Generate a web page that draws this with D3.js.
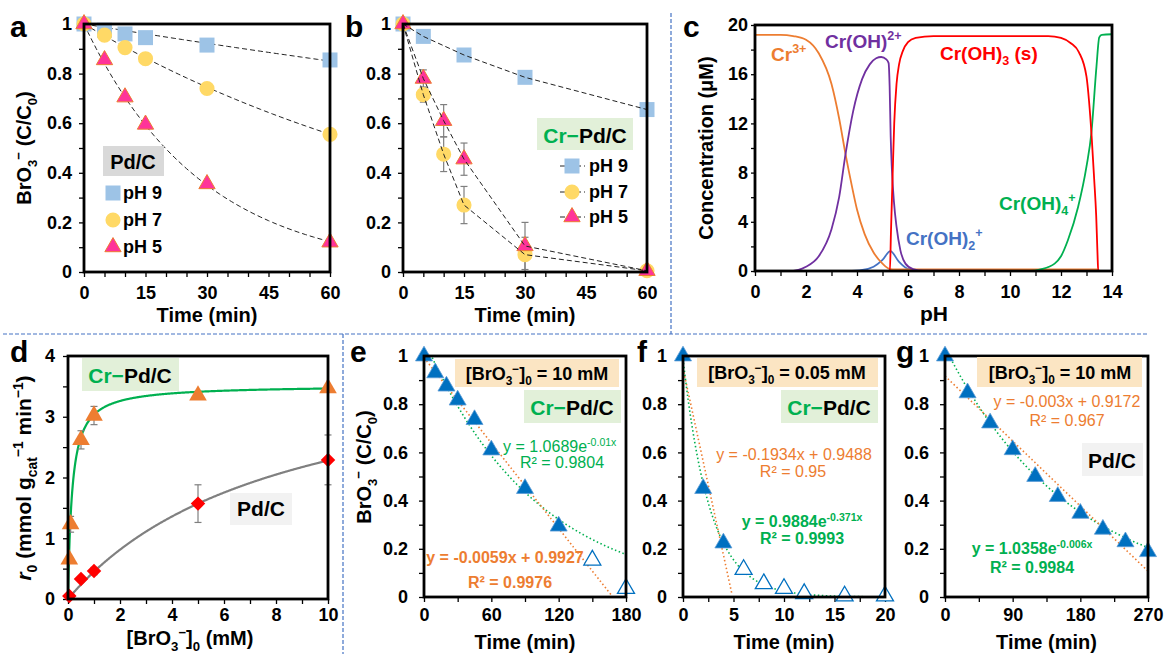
<!DOCTYPE html>
<html>
<head>
<meta charset="utf-8">
<script src="https://d3js.org/d3.v7.min.js"></script>
<style>
  body { margin: 0; background: #fff; }
  svg { display: block; }
</style>
</head>
<body>
<svg id="fig" width="1164" height="654"></svg>
<script>
// ---------- data ----------
// a: Pd/C, BrO3- decay at three pH
const timeA = [0, 5, 10, 15, 30, 60];
const aPH9 = [1, 0.975, 0.96, 0.945, 0.915, 0.855];
const aPH7 = [1, 0.955, 0.905, 0.86, 0.74, 0.555];
const aPH5 = [1, 0.855, 0.705, 0.595, 0.355, 0.12];
const aRate = { pH9: 0.0027, pH7: 0.0098, pH5: 0.035 }; // first-order fit constants

// b: Cr-Pd/C
const timeB9 = [0, 5, 15, 30, 60];
const bPH9 = [1, 0.95, 0.875, 0.785, 0.655];
const timeB = [0, 5, 10, 15, 30, 60];
const bPH7 = [1, 0.715, 0.475, 0.27, 0.07, 0.005];
const bErr7 = [0, 0.03, 0.07, 0.075, 0.07, 0];
const bPH5 = [1, 0.78, 0.61, 0.455, 0.105, 0.005];
const bErr5 = [0, 0.035, 0.065, 0.065, 0.095, 0];

// c: Cr speciation vs pH
const phCr3 = [0, 1, 1.5, 2, 2.5, 3, 3.3, 3.55, 3.8, 4.0, 4.3, 4.65, 5.0, 5.3, 5.5, 13.4, 13.55, 14];
const cCr3 = [19.2, 19.2, 19.1, 18.8, 17.7, 15.2, 12.4, 9.5, 6.9, 5.0, 3.0, 1.5, 0.6, 0.15, 0.12, 0.12, 0, 0];
const phCrOH = [0, 1.3, 1.7, 2, 2.5, 3, 3.3, 3.55, 3.85, 4.2, 4.5, 4.75, 4.95, 5.15, 5.24, 5.28, 5.32, 5.37, 5.45, 5.55, 5.7, 5.9, 6.2, 6.6, 14];
const cCrOH = [0, 0, 0.1, 0.35, 1.2, 3.4, 6.0, 9.5, 13.0, 15.6, 16.8, 17.3, 17.4, 17.2, 16.9, 15.0, 11.0, 8.2, 5.6, 3.6, 1.7, 0.6, 0.15, 0.02, 0];
const phCrOH2 = [0, 3.5, 4.1, 4.65, 5.0, 5.31, 5.64, 5.97, 6.4, 14];
const cCrOH2 = [0, 0, 0.05, 0.35, 0.9, 1.62, 0.76, 0.2, 0.03, 0];
const phCrOH3 = [0, 5.29, 5.33, 5.4, 5.46, 5.55, 5.65, 5.8, 6.0, 6.3, 7, 11.5, 12.0, 12.4, 12.7, 13.0, 13.1, 13.2, 13.3, 13.38, 13.43, 13.46, 14];
const cCrOH3 = [0, 0, 3, 8, 12, 15.2, 16.8, 17.9, 18.6, 18.95, 19.1, 19.1, 18.95, 18.5, 17.8, 15.8, 13.8, 11.0, 7.5, 4.5, 1.5, 0, 0];
const phCrOH4 = [0, 10.8, 11.2, 11.75, 12.0, 12.27, 12.67, 13.0, 13.19, 13.39, 13.5, 13.6, 14];
const cCrOH4 = [0, 0, 0.13, 0.6, 1.2, 2.5, 5.2, 8.5, 11.2, 16.6, 19.0, 19.2, 19.25];

// d: initial rate vs [BrO3-]0
const dConcCr = [0.05, 0.1, 0.5, 1, 5, 10];
const dRateCr = [0.65, 1.23, 2.62, 3.02, 3.35, 3.47];
const dErrCr = [0, 0.13, 0.15, 0.15, 0, 0];
const dConcPd = [0.05, 0.5, 1, 5, 10];
const dRatePd = [0.05, 0.33, 0.46, 1.57, 2.29];
const dErrPd = [0, 0, 0.06, 0.31, 0.41];
const mmCr = { vmax: 3.52, km: 0.16 };
const mmPd = { vmax: 4.16, km: 8.25 };

// e, f, g: kinetics with fits
const eTime = [0, 10, 20, 30, 45, 60, 90, 120];
const eVal = [1, 0.93, 0.875, 0.817, 0.736, 0.61, 0.45, 0.294];
const eOpenTime = [150, 180];
const eOpenVal = [0.153, 0.035];
const fTime = [0, 2, 4];
const fVal = [1, 0.45, 0.224];
const fOpenTime = [6, 8, 10, 12, 16, 20];
const fOpenVal = [0.114, 0.055, 0.035, 0.014, 0.004, 0.004];
const gTime = [0, 30, 60, 90, 120, 150, 180, 210, 240, 270];
const gVal = [1, 0.847, 0.722, 0.611, 0.5, 0.417, 0.347, 0.281, 0.229, 0.188];
const eFit = { a: 1.0689, b: -0.01, m: -0.0059, c: 0.9927 };
const fFit = { a: 0.9884, b: -0.371, m: -0.1934, c: 0.9488 };
const gFit = { a: 1.0358, b: -0.006, m: -0.003, c: 0.9172 };

// ---------- drawing ----------
const FONT = "Arial, 'Liberation Sans', Helvetica, sans-serif";
const svg = d3.select('#fig');
svg.append('rect').attr('width', 1164).attr('height', 654).attr('fill', '#fff');

const fmt = v => String(+v.toFixed(2));
const isMaj = (v, m) => Math.abs(v / m - Math.round(v / m)) < 1e-6;
let clipId = 0;

function makeAxes(c) {
  const x = d3.scaleLinear().domain(c.xd).range(c.xr);
  const y = d3.scaleLinear().domain(c.yd).range(c.yr);
  const xt = d3.range(c.xd[0], c.xd[1] + 1e-9, c.xStep).map(v => +v.toFixed(6));
  const yt = d3.range(c.yd[0], c.yd[1] + 1e-9, c.yStep).map(v => +v.toFixed(6));

  const ax = svg.append('g')
    .attr('transform', `translate(0,${c.yr[0]})`)
    .call(d3.axisBottom(x).tickValues(xt).tickSize(5).tickPadding(c.xPad)
      .tickFormat(v => isMaj(v, c.xMajor) ? fmt(v) : ''));
  const ay = svg.append('g')
    .attr('transform', `translate(${c.xr[0]},0)`)
    .call(d3.axisLeft(y).tickValues(yt).tickSize(c.yTick || 5).tickPadding(c.yPad)
      .tickFormat(v => isMaj(v, c.yMajor) ? fmt(v) : ''));
  [ax, ay].forEach(a => {
    a.select('.domain').remove();
    a.attr('font-family', FONT).attr('font-size', 18).attr('font-weight', 'bold');
    a.selectAll('line').attr('stroke', '#000').attr('stroke-width', 1.3);
    a.selectAll('text').attr('fill', '#000');
  });

  const id = 'clip' + (clipId++);
  svg.append('clipPath').attr('id', id).append('rect')
    .attr('x', c.xr[0]).attr('y', c.yr[1])
    .attr('width', c.xr[1] - c.xr[0]).attr('height', c.yr[0] - c.yr[1]);

  const plot = svg.append('g');
  const clipped = plot.append('g').attr('clip-path', `url(#${id})`);
  const frame = () => svg.append('rect')
    .attr('x', c.xr[0]).attr('y', c.yr[1])
    .attr('width', c.xr[1] - c.xr[0]).attr('height', c.yr[0] - c.yr[1])
    .attr('fill', 'none').attr('stroke', '#000').attr('stroke-width', 2.8);
  return { x, y, plot, clipped, frame };
}

// text with sub/superscripts
function rich(sel, parts, size) {
  let cur = 0;
  parts.forEach(p => {
    const [s, mode, style] = p;
    const fs = mode ? size * 0.66 : size;
    const off = mode === 'sub' ? size * 0.28 : mode === 'sup' ? -size * 0.4 : 0;
    const t = sel.append('tspan').attr('dy', off - cur).attr('font-size', fs).text(s);
    if (style) Object.entries(style).forEach(([k, v]) => t.attr(k, v));
    cur = off;
  });
  return sel;
}

function label(x, y, parts, size, opts = {}) {
  const t = svg.append('text')
    .attr('x', x).attr('y', y)
    .attr('font-family', FONT)
    .attr('font-weight', opts.weight || 'bold')
    .attr('text-anchor', opts.anchor || 'middle')
    .attr('fill', opts.fill || '#000');
  if (opts.rotate) {
    t.attr('x', null).attr('y', null)
      .attr('transform', `translate(${x},${y}) rotate(-90)`);
  }
  return rich(t, parts, size);
}

function box(x0, y0, x1, y1, fill) {
  svg.append('rect').attr('x', x0).attr('y', y0)
    .attr('width', x1 - x0).attr('height', y1 - y0).attr('fill', fill);
}

function letter(x, y, s) {
  svg.append('text').attr('x', x).attr('y', y).attr('font-family', FONT)
    .attr('font-weight', 'bold').attr('font-size', 30).text(s);
}

const sym = (type, size) => d3.symbol().type(type).size(size)();
const SQ = sym(d3.symbolSquare, 225);
const CI = sym(d3.symbolCircle, 180);
const TRI_S = sym(d3.symbolTriangle, 115);
const TRI = sym(d3.symbolTriangle, 125);
const TRI_D = sym(d3.symbolTriangle, 135);
const DIA = sym(d3.symbolSquare, 105);

function markers(g, xs, ys, sx, sy, path, fill, stroke, sw, rot) {
  g.selectAll(null).data(xs.map((v, i) => [v, ys[i]])).enter().append('path')
    .attr('d', path)
    .attr('transform', d => `translate(${sx(d[0])},${sy(d[1])})` + (rot ? ` rotate(${rot})` : ''))
    .attr('fill', fill).attr('stroke', stroke || 'none').attr('stroke-width', sw || 0);
}

function errorBars(g, xs, ys, es, sx, sy) {
  xs.forEach((v, i) => {
    if (!es[i]) return;
    const cx = sx(v), y1 = sy(ys[i] + es[i]), y2 = sy(ys[i] - es[i]);
    g.append('line').attr('x1', cx).attr('x2', cx).attr('y1', y1).attr('y2', y2);
    g.append('line').attr('x1', cx - 3.5).attr('x2', cx + 3.5).attr('y1', y1).attr('y2', y1);
    g.append('line').attr('x1', cx - 3.5).attr('x2', cx + 3.5).attr('y1', y2).attr('y2', y2);
  });
  g.selectAll('line').attr('stroke', '#7f7f7f').attr('stroke-width', 1.2);
}

const BLUE_SQ = '#9dc3e6', YEL = '#ffd966', PINK = '#ff3399', ORANGE = '#ed7d31',
  GREEN = '#00b050', TRI_BLUE = '#0070c0', PURPLE = '#7030a0', RED = '#ff0000', MIDBLUE = '#4472c4';

// ---------- panel a ----------
{
  const P = makeAxes({ xd: [0, 60], xr: [84, 330], yd: [0, 1], yr: [272, 24], xStep: 5, xMajor: 15, yStep: 0.1, yMajor: 0.2, xPad: 9, yPad: 7 });
  markers(P.plot, timeA, aPH9, P.x, P.y, SQ, BLUE_SQ);
  markers(P.plot, timeA, aPH7, P.x, P.y, CI, YEL);
  markers(P.plot, timeA, aPH5, P.x, P.y, TRI_S, PINK, ORANGE, 1);
  const line = d3.line().x(d => P.x(d[0])).y(d => P.y(d[1]));
  Object.values(aRate).forEach(k => {
    P.clipped.append('path').attr('d', line(d3.range(0, 60.01, 1).map(t => [t, Math.exp(-k * t)])))
      .attr('fill', 'none').attr('stroke', '#222').attr('stroke-width', 1).attr('stroke-dasharray', '5,3');
  });
  P.frame();
  box(103, 146, 164, 176, '#d9d9d9');
  label(133, 169, [['Pd/C']], 20);
  const lg = svg.append('g');
  lg.append('path').attr('d', SQ).attr('transform', 'translate(113,193)').attr('fill', BLUE_SQ);
  lg.append('path').attr('d', CI).attr('transform', 'translate(113,220)').attr('fill', YEL);
  lg.append('path').attr('d', TRI_S).attr('transform', 'translate(113,247)').attr('fill', PINK).attr('stroke', ORANGE);
  label(123, 199, [['pH 9']], 18, { anchor: 'start' });
  label(123, 226, [['pH 7']], 18, { anchor: 'start' });
  label(123, 253, [['pH 5']], 18, { anchor: 'start' });
  label(207, 322, [['Time (min)']], 20);
  label(31, 148, [['BrO'], ['3', 'sub'], ['−', 'sup'], [' (C/C'], ['0', 'sub'], [')']], 20, { rotate: true });
  letter(10, 37, 'a');
}

// ---------- panel b ----------
{
  const P = makeAxes({ xd: [0, 60], xr: [403, 647], yd: [0, 1], yr: [272, 24], xStep: 5, xMajor: 15, yStep: 0.1, yMajor: 0.2, xPad: 9, yPad: 7 });
  const eg = P.plot.append('g');
  errorBars(eg, timeB, bPH7, bErr7, P.x, P.y);
  errorBars(eg, timeB, bPH5, bErr5, P.x, P.y);
  markers(P.plot, timeB9, bPH9, P.x, P.y, SQ, BLUE_SQ);
  markers(P.plot, timeB, bPH7, P.x, P.y, CI, YEL);
  markers(P.plot, timeB, bPH5, P.x, P.y, TRI_S, PINK, ORANGE, 1);
  const line = d3.line().x(d => P.x(d[0])).y(d => P.y(d[1]));
  [[timeB9, bPH9], [timeB, bPH7], [timeB, bPH5]].forEach(([xs, ys]) => {
    P.plot.append('path').attr('d', line(xs.map((v, i) => [v, ys[i]])))
      .attr('fill', 'none').attr('stroke', '#222').attr('stroke-width', 1).attr('stroke-dasharray', '5,3');
  });
  P.frame();
  box(537, 118, 633, 150, '#e2f0d9');
  label(585, 143, [['Cr−', null, { fill: GREEN }], ['Pd/C']], 21);
  const items = [[166, SQ, BLUE_SQ, null, 'pH 9'], [192, CI, YEL, null, 'pH 7'], [217, TRI_S, PINK, ORANGE, 'pH 5']];
  items.forEach(([yy, p, f, s, t]) => {
    svg.append('line').attr('x1', 560).attr('x2', 585).attr('y1', yy).attr('y2', yy)
      .attr('stroke', '#222').attr('stroke-dasharray', '5,3');
    svg.append('path').attr('d', p).attr('transform', `translate(572,${yy})`).attr('fill', f).attr('stroke', s || 'none');
    label(589, yy + 6, [[t]], 18, { anchor: 'start' });
  });
  label(525, 322, [['Time (min)']], 20);
  letter(345, 37, 'b');
}

// ---------- panel c ----------
{
  const P = makeAxes({ xd: [0, 14], xr: [755, 1112], yd: [0, 20], yr: [271, 25], xStep: 1, xMajor: 2, yStep: 2, yMajor: 4, xPad: 9, yPad: 3, yTick: 4 });
  const line = d3.line().curve(d3.curveMonotoneX).x(d => P.x(d[0])).y(d => P.y(d[1]));
  const series = [
    [phCrOH2, cCrOH2, MIDBLUE],
    [phCr3, cCr3, ORANGE],
    [phCrOH4, cCrOH4, GREEN],
    [phCrOH, cCrOH, PURPLE],
    [phCrOH3, cCrOH3, RED]
  ];
  series.forEach(([xs, ys, col]) => {
    P.clipped.append('path').attr('d', line(xs.map((v, i) => [v, ys[i]])))
      .attr('fill', 'none').attr('stroke', col).attr('stroke-width', 1.8);
  });
  P.frame();
  label(771, 61, [['Cr'], ['3+', 'sup']], 19, { anchor: 'start', fill: ORANGE });
  label(825, 48, [['Cr(OH)'], ['2+', 'sup']], 19, { anchor: 'start', fill: PURPLE });
  label(940, 60, [['Cr(OH)'], ['3', 'sub'], [' (s)', null]], 19, { anchor: 'start', fill: RED });
  label(906, 245, [['Cr(OH)'], ['2', 'sub'], ['+', 'sup']], 19, { anchor: 'start', fill: MIDBLUE });
  label(999, 210, [['Cr(OH)'], ['4', 'sub'], ['+', 'sup']], 19, { anchor: 'start', fill: GREEN });
  label(934, 321, [['pH']], 21);
  label(713, 148, [['Concentration (μM)']], 20, { rotate: true });
  letter(683, 37, 'c');
}

// ---------- panel d ----------
{
  const P = makeAxes({ xd: [0, 10], xr: [68, 328], yd: [0, 4], yr: [599, 356], xStep: 1, xMajor: 2, yStep: 0.5, yMajor: 1, xPad: 4, yPad: 8 });
  const line = d3.line().x(d => P.x(d[0])).y(d => P.y(d[1]));
  const mm = p => d3.range(0, 10.001, 0.02).map(s => [s, p.vmax * s / (p.km + s)]);
  P.clipped.append('path').attr('d', line(mm(mmPd))).attr('fill', 'none').attr('stroke', '#808080').attr('stroke-width', 2.2);
  P.clipped.append('path').attr('d', line(mm(mmCr))).attr('fill', 'none').attr('stroke', GREEN).attr('stroke-width', 2.2);
  const eg = P.plot.append('g');
  errorBars(eg, dConcCr, dRateCr, dErrCr, P.x, P.y);
  errorBars(eg, dConcPd, dRatePd, dErrPd, P.x, P.y);
  markers(P.plot, dConcCr, dRateCr, P.x, P.y, TRI_D, ORANGE);
  markers(P.plot, dConcPd, dRatePd, P.x, P.y, DIA, RED, null, 0, 45);
  P.frame();
  box(82, 358, 179, 391, '#e2f0d9');
  label(130, 383, [['Cr−', null, { fill: GREEN }], ['Pd/C']], 21);
  box(230, 493, 292, 525, '#f2f2f2');
  label(261, 516, [['Pd/C']], 21);
  label(190, 645, [['[BrO'], ['3', 'sub'], ['−', 'sup'], [']'], ['0', 'sub'], [' (mM)']], 20);
  label(31, 478, [['r', null, { 'font-style': 'italic' }], ['0', 'sub'], [' (mmol g'], ['cat', 'sub'], ['−1', 'sup'], [' min'], ['−1', 'sup'], [')']], 21, { rotate: true });
  letter(10, 362, 'd');
}

// ---------- panels e, f, g ----------
function kinetics(c) {
  const P = makeAxes({ xd: c.xd, xr: c.xr, yd: [0, 1], yr: [597, 356], xStep: c.xStep, xMajor: c.xMajor, yStep: 0.1, yMajor: 0.2, xPad: 6, yPad: 11 });
  markers(P.plot, c.t, c.v, P.x, P.y, TRI, TRI_BLUE, '#5b9bd5', 0.8);
  if (c.ot) markers(P.plot, c.ot, c.ov, P.x, P.y, TRI, '#fff', TRI_BLUE, 1.3);
  const line = d3.line().x(d => P.x(d[0])).y(d => P.y(d[1]));
  const xs = d3.range(0, c.xd[1] * 1.0001, c.xd[1] / 300);
  P.clipped.append('path').attr('d', line(xs.map(t => [t, c.fit.a * Math.exp(c.fit.b * t)])))
    .attr('fill', 'none').attr('stroke', GREEN).attr('stroke-width', 1.6).attr('stroke-dasharray', '1.5,2.5');
  const xl = xs.filter(t => c.fit.m * t + c.fit.c >= 0);
  P.clipped.append('path').attr('d', line(xl.map(t => [t, c.fit.m * t + c.fit.c])))
    .attr('fill', 'none').attr('stroke', ORANGE).attr('stroke-width', 1.6).attr('stroke-dasharray', '1.5,2.5');
  P.frame();
  label((c.xr[0] + c.xr[1]) / 2, 649, [['Time (min)']], 20);
  return P;
}

kinetics({ xd: [0, 180], xr: [424, 626], xStep: 30, xMajor: 60, t: eTime, v: eVal, ot: eOpenTime, ov: eOpenVal, fit: eFit });
box(455, 359, 619, 387, '#fbe5c3');
label(537, 380, [['[BrO'], ['3', 'sub'], ['−', 'sup'], [']'], ['0', 'sub'], [' = 10 mM']], 18);
box(524, 390, 621, 423, '#e2f0d9');
label(572, 415, [['Cr−', null, { fill: GREEN }], ['Pd/C']], 21);
label(503, 452, [['y = 1.0689e'], ['-0.01x', 'sup']], 16, { anchor: 'start', weight: 'normal', fill: GREEN });
label(520, 468, [['R² = 0.9804']], 16, { anchor: 'start', weight: 'normal', fill: GREEN });
label(505, 563, [['y = -0.0059x + 0.9927']], 16, { fill: ORANGE });
label(510, 588, [['R² = 0.9976']], 16, { fill: ORANGE });
label(371, 467, [['BrO'], ['3', 'sub'], ['−', 'sup'], [' (C/C'], ['0', 'sub'], [')']], 20, { rotate: true });
letter(350, 362, 'e');

kinetics({ xd: [0, 20], xr: [683, 885], xStep: 2.5, xMajor: 5, t: fTime, v: fVal, ot: fOpenTime, ov: fOpenVal, fit: fFit });
box(697, 358, 878, 387, '#fbe5c3');
label(787, 379, [['[BrO'], ['3', 'sub'], ['−', 'sup'], [']'], ['0', 'sub'], [' = 0.05 mM']], 18);
box(781, 390, 878, 423, '#e2f0d9');
label(829, 415, [['Cr−', null, { fill: GREEN }], ['Pd/C']], 21);
label(794, 460, [['y = -0.1934x + 0.9488']], 16, { weight: 'normal', fill: ORANGE });
label(793, 477, [['R² = 0.95']], 16, { weight: 'normal', fill: ORANGE });
label(802, 527, [['y = 0.9884e'], ['-0.371x', 'sup']], 16, { fill: GREEN });
label(802, 544, [['R² = 0.9993']], 16, { fill: GREEN });
letter(637, 362, 'f');

kinetics({ xd: [0, 270], xr: [945, 1148], xStep: 45, xMajor: 90, t: gTime, v: gVal, fit: gFit });
box(977, 357, 1142, 387, '#fbe5c3');
label(1060, 379, [['[BrO'], ['3', 'sub'], ['−', 'sup'], [']'], ['0', 'sub'], [' = 10 mM']], 18);
label(1067, 407, [['y = -0.003x + 0.9172']], 16, { weight: 'normal', fill: ORANGE });
label(1067, 426, [['R² = 0.967']], 16, { weight: 'normal', fill: ORANGE });
box(1082, 443, 1143, 476, '#f2f2f2');
label(1112, 468, [['Pd/C']], 21);
label(1032, 554, [['y = 1.0358e'], ['-0.006x', 'sup']], 16, { fill: GREEN });
label(1032, 573, [['R² = 0.9984']], 16, { fill: GREEN });
letter(896, 362, 'g');

// ---------- dashed separators ----------
const sep = svg.append('g').attr('stroke', MIDBLUE).attr('stroke-width', 1.2).attr('stroke-dasharray', '4,2').attr('fill', 'none');
sep.append('line').attr('x1', 3).attr('x2', 1148).attr('y1', 334).attr('y2', 334);
sep.append('line').attr('x1', 671).attr('x2', 671).attr('y1', 13).attr('y2', 334);
sep.append('line').attr('x1', 343).attr('x2', 343).attr('y1', 334).attr('y2', 654);
</script>
</body>
</html>
